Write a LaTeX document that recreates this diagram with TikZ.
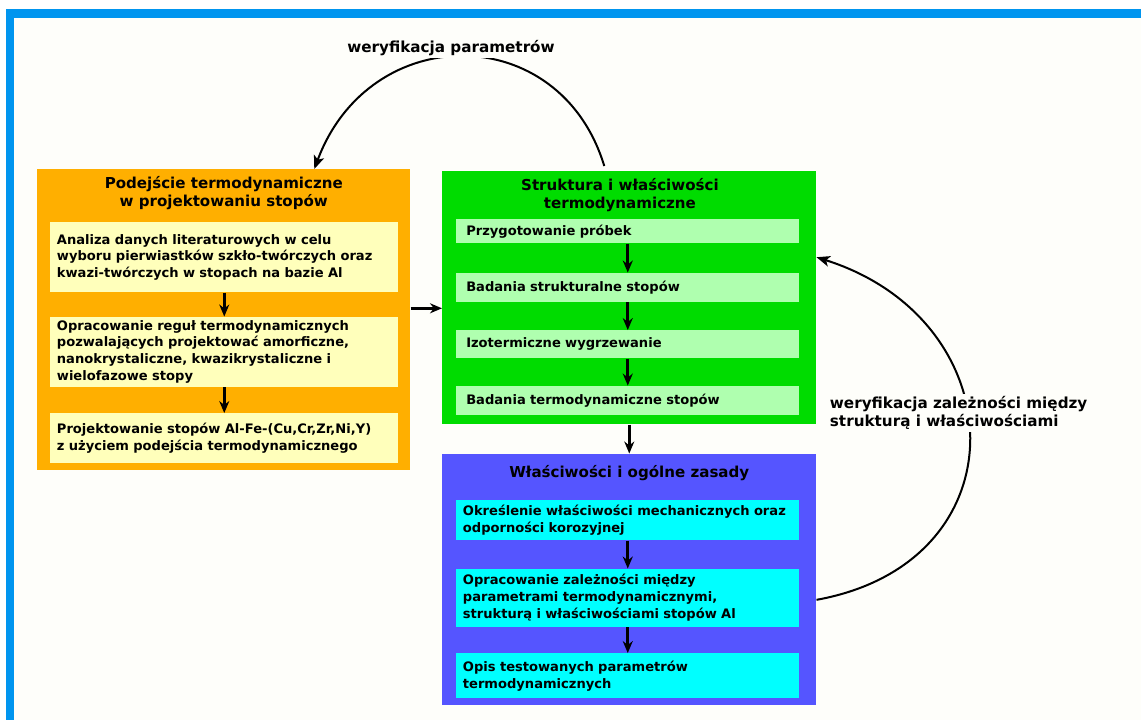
\documentclass[tikz,border=0pt]{standalone}
\usepackage{fontspec}
\setmainfont{DejaVu Sans}
\usetikzlibrary{arrows.meta, positioning}
\definecolor{frameBlue}{HTML}{0095EF}
\definecolor{pageBg}{HTML}{FEFEFA}
\definecolor{boxOrange}{HTML}{FFAF00}
\definecolor{boxYellow}{HTML}{FFFFBB}
\definecolor{boxGreen}{HTML}{00DC00}
\definecolor{boxMint}{HTML}{AFFFAF}
\definecolor{boxBlue}{HTML}{5555FF}
\definecolor{boxCyan}{HTML}{00FFFF}

\begin{document}
\begin{tikzpicture}[
    x=0.75pt, y=-0.75pt,
    stage/.style={rectangle, fill=#1, anchor=north west, inner sep=0pt},
    headline/.style={font=\fontsize{11.3}{13.7}\selectfont\bfseries, align=center, inner sep=0pt},
    task/.style 2 args={rectangle, fill=#1, anchor=north west, inner xsep=5pt, inner ysep=1pt,
                 text width=#2, align=left, font=\fontsize{9.8}{12.6}\selectfont\bfseries},
    note/.style={fill=pageBg, inner sep=2pt, font=\fontsize{11.4}{13.8}\selectfont\bfseries},
    flow/.style={-{Stealth[length=9pt, width=7.5pt]}, line width=2.2pt, black},
    feedback/.style={-{Stealth[length=10pt, width=8pt, inset=2.5pt]}, line width=1.5pt, black}
  ]
    % page and frame
    \fill[white] (0,0) rectangle (1141,720);
    \fill[frameBlue] (6,9) rectangle (1141,720);
    \fill[pageBg] (14,18) rectangle (1141,720);
    \useasboundingbox (0,0) rectangle (1141,720);

    % left block
    \node[stage=boxOrange, minimum width=279.75pt, minimum height=225.75pt] (podejscie) at (37,169) {};
    \node[headline, below=5pt of podejscie.north] (podejscieTitle) {Podejście termodynamiczne\\w projektowaniu stopów};
    \node[task={boxYellow}{251pt}, minimum height=52.5pt] (analiza) at (50,222)
      {Analiza danych literaturowych w celu\\wyboru pierwiastków szkło-twórczych oraz\\kwazi-twórczych w stopach na bazie Al};
    \node[task={boxYellow}{251pt}, minimum height=52.5pt, below=18pt of analiza] (reguly)
      {Opracowanie reguł termodynamicznych\\pozwalających projektować amorficzne,\\nanokrystaliczne, kwazikrystaliczne i\\wielofazowe stopy};
    \node[task={boxYellow}{251pt}, minimum height=37.5pt, below=19.5pt of reguly] (projekt)
      {Projektowanie stopów Al-Fe-(Cu,Cr,Zr,Ni,Y)\\z użyciem podejścia termodynamicznego};

    % middle block
    \node[stage=boxGreen, minimum width=280.5pt, minimum height=189.75pt] (struktura) at (442,171) {};
    \node[headline, below=5pt of struktura.north, xshift=-7pt] (strukturaTitle) {Struktura i właściwości\\termodynamiczne};
    \node[task={boxMint}{242.25pt}, inner xsep=7.5pt, minimum height=18pt] (probki) at (456,219) {Przygotowanie próbek};
    \node[task={boxMint}{242.25pt}, inner xsep=7.5pt, minimum height=21.75pt, below=21.75pt of probki] (badStrukt) {Badania strukturalne stopów};
    \node[task={boxMint}{242.25pt}, inner xsep=7.5pt, minimum height=21pt, below=21pt of badStrukt] (wygrzew) {Izotermiczne wygrzewanie};
    \node[task={boxMint}{242.25pt}, inner xsep=7.5pt, minimum height=21.75pt, below=20.25pt of wygrzew] (badTermo) {Badania termodynamiczne stopów};

    % lower block
    \node[stage=boxBlue, minimum width=280.5pt, minimum height=188.25pt, below=21.75pt of struktura] (wlasciwosci) {};
    \node[headline, below=9pt of wlasciwosci.north] (wlasciwosciTitle) {Właściwości i ogólne zasady};
    \node[task={boxCyan}{247.25pt}, minimum height=30pt] (mechan) at (456,500)
      {Określenie właściwości mechanicznych oraz\\odporności korozyjnej};
    \node[task={boxCyan}{247.25pt}, minimum height=43.5pt, below=21pt of mechan] (zaleznosci)
      {Opracowanie zależności między\\parametrami termodynamicznymi,\\strukturą i właściwościami stopów Al};
    \node[task={boxCyan}{247.25pt}, minimum height=33.75pt, below=19.5pt of zaleznosci] (opis)
      {Opis testowanych parametrów\\termodynamicznych};

    % arrows
    \draw[flow] (analiza) -- (reguly);
    \draw[flow] (reguly) -- (projekt);
    \draw[flow] (probki) -- (badStrukt);
    \draw[flow] (badStrukt) -- (wygrzew);
    \draw[flow] (wygrzew) -- (badTermo);
    \draw[flow] (mechan) -- (zaleznosci);
    \draw[flow] (zaleznosci) -- (opis);
    \draw[flow] ([yshift=8.6pt]podejscie.east) -- ([yshift=8.6pt]podejscie.east -| struktura.west);
    \draw[flow] (struktura) -- (wlasciwosci);

    % feedback loops
    \draw[feedback] ([xshift=-18.75pt, yshift=3.75pt]struktura.north) .. controls (560,20) and (370,20) .. ([xshift=67.9pt]podejscie.north);
    \node[note] (weryfParam) at (451,48) {weryfikacja parametrów};
    \draw[feedback] ([yshift=-15.4pt]wlasciwosci.east) .. controls (1025,562) and (1015,320) .. ([yshift=30.4pt]struktura.east);
    \node[note, anchor=west, align=left] (weryfZal) at (827,413) {weryfikacja zależności między\\strukturą i właściwościami};
\end{tikzpicture}
\end{document}
